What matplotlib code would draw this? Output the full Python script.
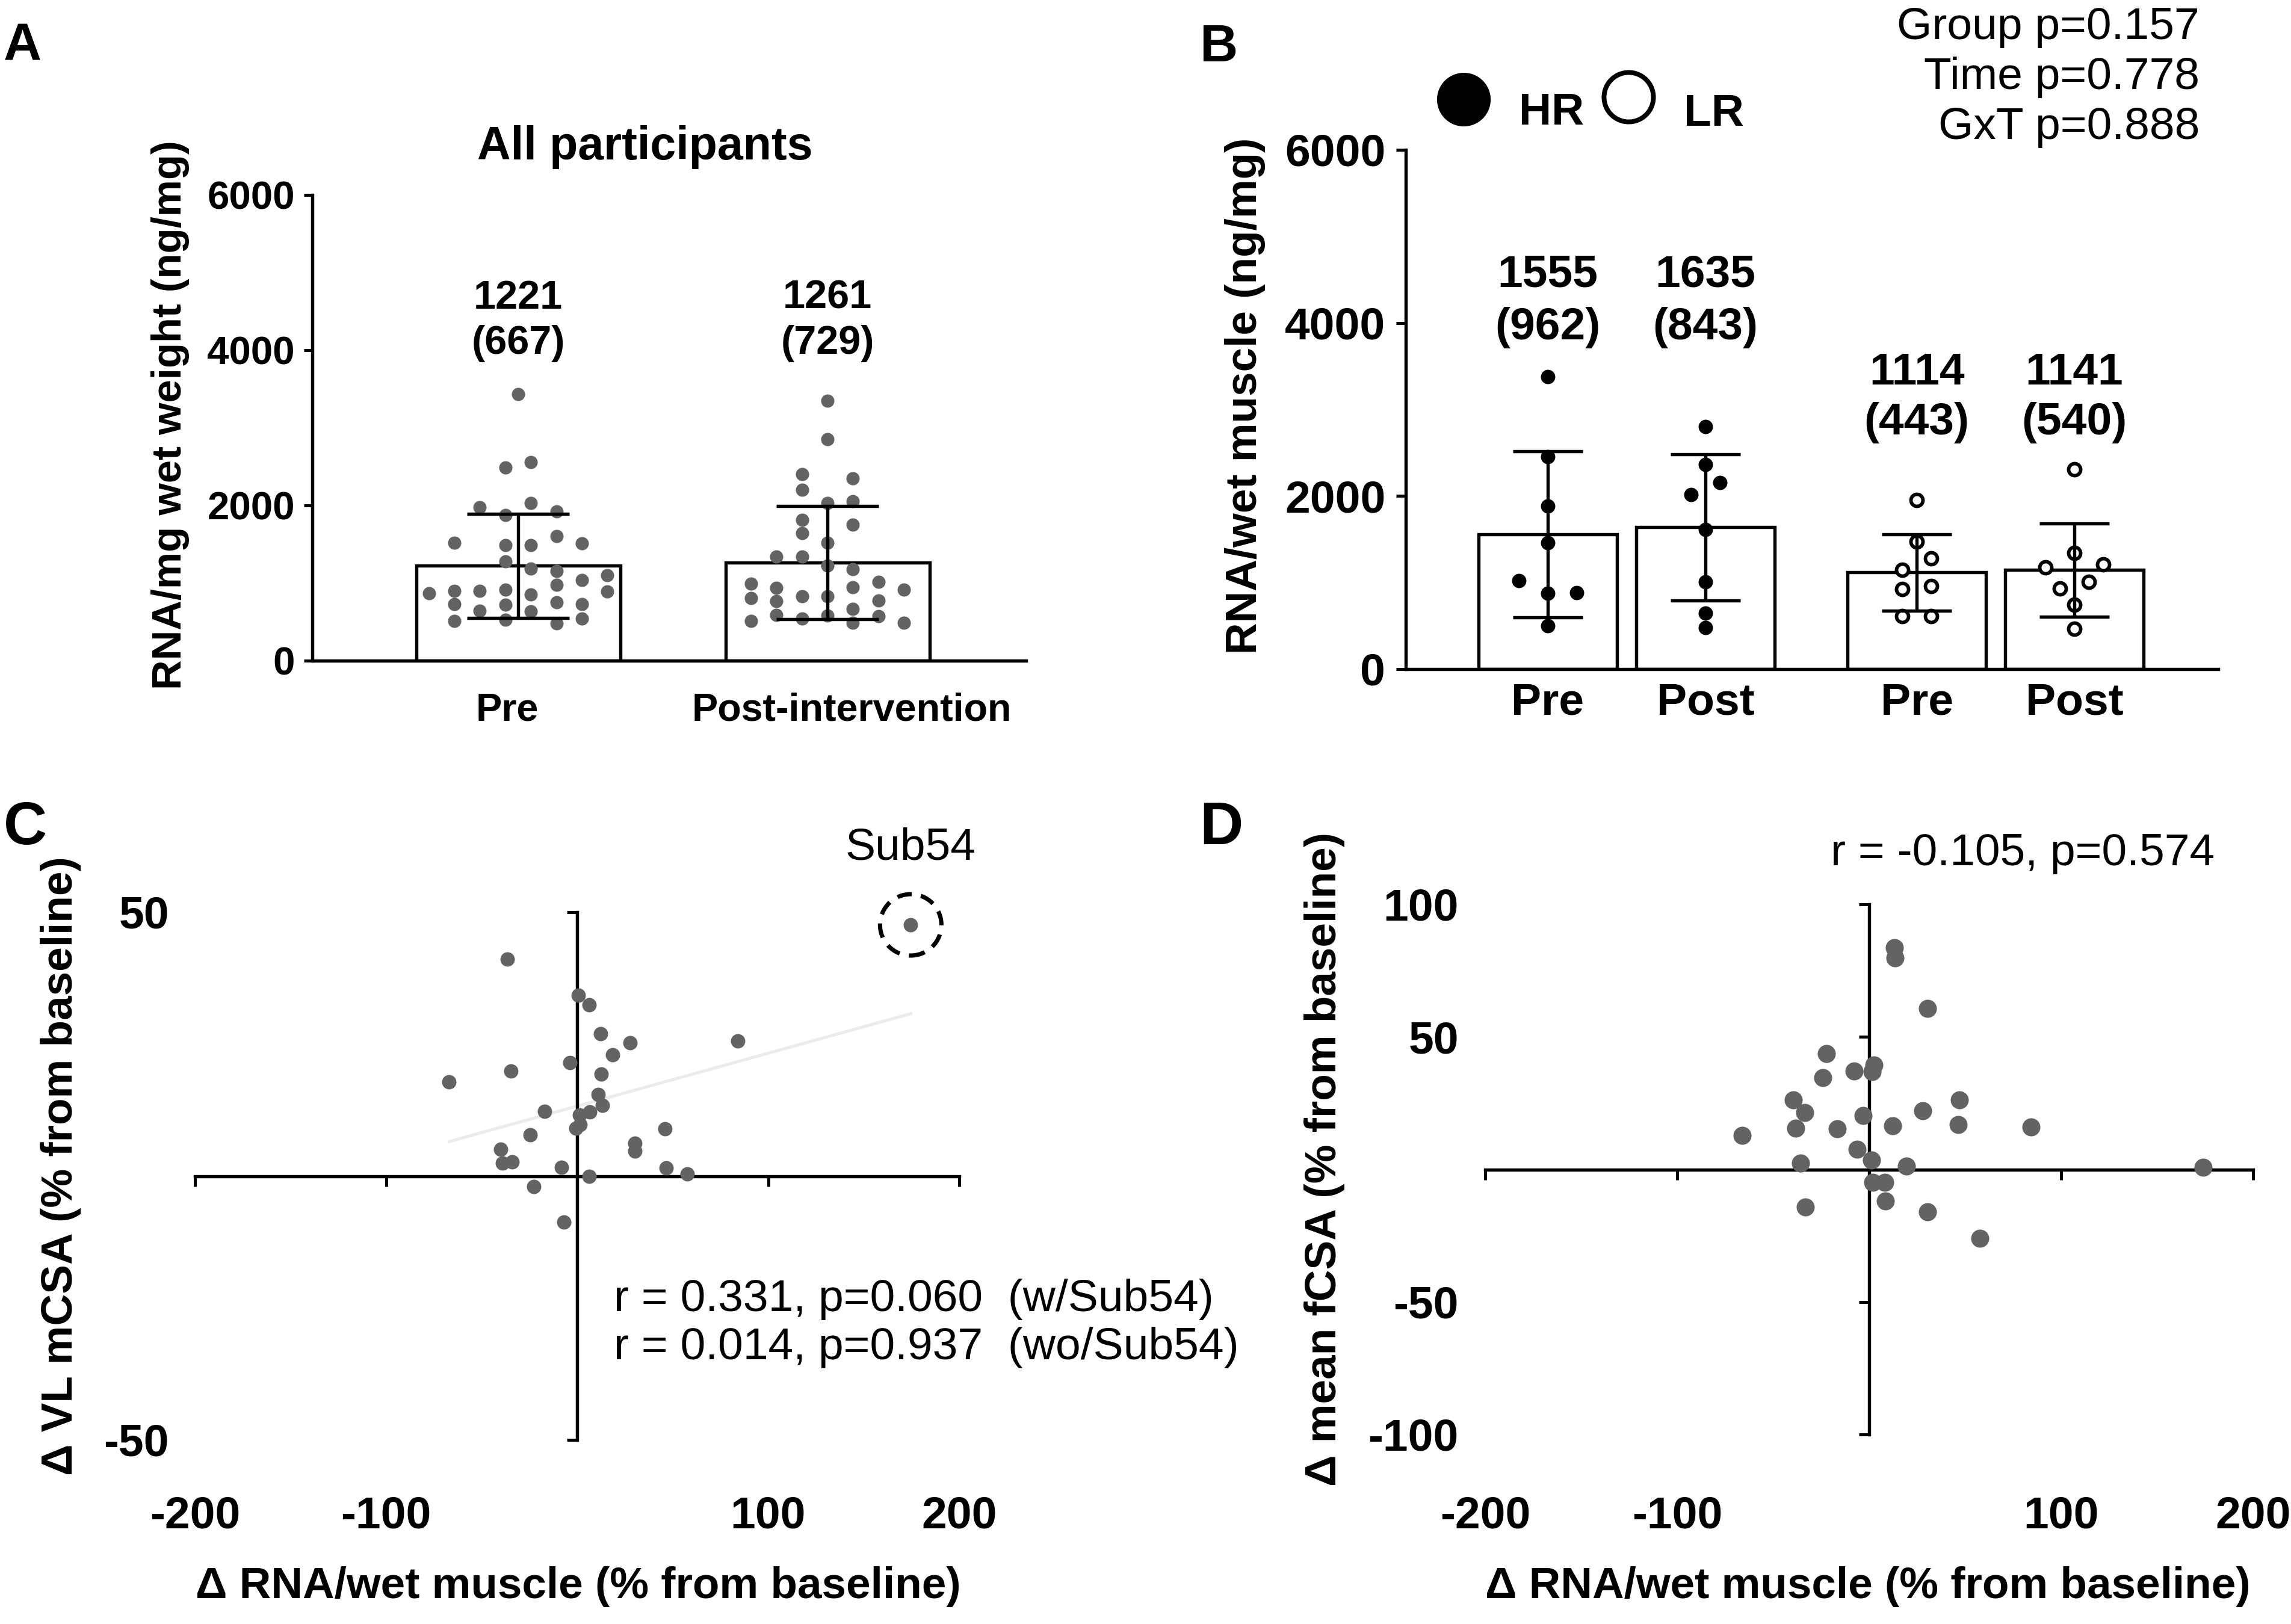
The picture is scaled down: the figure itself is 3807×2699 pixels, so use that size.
import numpy as np
import matplotlib
matplotlib.use("Agg")
import matplotlib.pyplot as plt
from matplotlib.lines import Line2D
from matplotlib.patches import Ellipse
from matplotlib.transforms import blended_transform_factory, offset_copy, ScaledTranslation

# Size of the output picture in pixels (saved at 300 dpi).
W, H = 3807, 2699
DPI = 300

# Panel A: all participants, RNA per mg wet weight (ng/mg).
A_GROUPS = ["Pre", "Post-intervention"]
A_MEAN = [1221, 1261]
A_SD = [667, 729]
A_PRE = [3432, 2490, 2562, 1980, 2028, 1874, 1919, 1521, 1487, 1487, 1606, 1508,
         1277, 1189, 1155, 1035, 1102, 871, 897, 897, 911, 849, 977, 889,
         730, 719, 751, 730, 640, 632, 512, 531, 478, 544]
# Column (swarm slot) of each dot.
A_PRE_SLOT = [0, -0.5, 0.5, -1.5, 0.5, -0.5, 1.5, -2.5, -0.5, 0.5, 1.5, 2.5,
              -0.5, 0.5, 1.5, 2.5, 3.5, -3.5, -2.5, -1.5, -0.5, 0.5, 1.5, 3.5,
              -2.5, -0.5, 1.5, 2.5, -1.5, 0.5, -2.5, -0.5, 1.5, 2.5]
A_POST = [3345, 2854, 2405, 2349, 2198, 2033, 2052, 1813, 1752, 1641, 1521,
          1343, 1343, 1221, 1176, 990, 937, 831, 831, 942, 1017, 916,
          804, 765, 778, 664, 592, 584, 571, 512, 539, 486, 491]
A_POST_SLOT = [0, 0, -1, 1, -1, 0, 1, -1, 1, -1, 0,
               -2, -1, 0, 1, -3, -2, -1, 0, 1, 2, 3,
               -3, -2, 2, 1, -2, 0, 2, -3, -1, 1, 3]

# Panel B: HR vs LR, RNA per wet muscle (ng/mg).
B_GROUPS = ["Pre", "Post", "Pre", "Post"]
B_MEAN = [1555, 1635, 1114, 1141]
B_SD = [962, 843, 443, 540]
B_HR_PRE = [3374, 2452, 1884, 1457, 1019, 876, 883, 499]
B_HR_PRE_SLOT = [0, 0, 0, 0, -2, 0, 2, 0]
B_HR_POST = [2799, 2363, 2152, 2013, 1613, 1002, 643, 475]
B_HR_POST_SLOT = [0, 0, 1, -1, 0, 0, 0, 0]
B_LR_PRE = [1949, 1470, 1278, 1146, 954, 919, 607, 607]
B_LR_PRE_SLOT = [0, 0, 1, -1, 1, -1, -1, 1]
B_LR_POST = [2308, 1338, 1170, 1206, 1002, 931, 739, 463]
B_LR_POST_SLOT = [0, 0, -2, 2, 1, -1, 0, 0]
B_STATS = ["Group p=0.157", "Time p=0.778", "GxT p=0.888"]

# Panel C: change in RNA vs change in VL mCSA (% from baseline).
C_X = [174.6, -36.5, 0.6, 6.4, 12.2, 27.7, 84.0, 18.7, -3.9, -34.5, 12.5,
       -67.0, 11.1, 13.1, -16.9, 6.7, 1.3, 1.5, -0.5, 46.0, -24.7, 30.1,
       30.1, -39.9, -39.0, -33.9, -8.2, 46.5, 57.5, 6.2, -22.8, -7.0]
C_Y = [47.6, 41.1, 34.3, 32.4, 27.0, 25.3, 25.6, 23.0, 21.5, 19.9, 19.3,
       17.8, 15.4, 13.4, 12.3, 12.1, 11.6, 9.7, 9.1, 9.0, 7.8, 6.2,
       4.7, 5.1, 2.4, 2.7, 1.7, 1.5, 0.4, -0.1, -2.0, -8.7]
C_STATS = ["r = 0.331, p=0.060  (w/Sub54)", "r = 0.014, p=0.937  (wo/Sub54)"]

# Panel D: change in RNA vs change in mean fCSA (% from baseline).
D_X = [13.1, 13.6, 30.4, -22.3, 2.5, -7.7, 1.5, -24.0, 47.1, -39.5, -33.6,
       28.0, -3.2, 12.1, 46.4, 84.2, -38.3, -16.6, -66.2, -6.3, 1.1, -35.6,
       19.3, 174.1, 1.8, 8.3, 8.4, -33.2, 30.4, 57.8]
D_Y = [83.6, 79.9, 60.7, 43.8, 39.5, 37.2, 36.8, 34.6, 26.2, 26.2, 21.4,
       22.2, 20.3, 16.5, 16.8, 15.9, 15.5, 15.4, 12.8, 7.6, 3.5, 2.3,
       1.3, 0.9, -4.8, -4.8, -11.9, -14.1, -16.1, -26.1]
D_STATS = "r = -0.105, p=0.574"

DOT_GREY = "#636363"


def fx(px):
    # This turns a pixel column into a figure fraction.
    return px / W


def fy(py):
    # This turns a pixel row (from the top) into a figure fraction.
    return 1 - py / H


def add_axes_px(fig, left, top, right, bottom):
    return fig.add_axes([fx(left), fy(bottom), (right - left) / W, (bottom - top) / H])


def quadrant_axes(ax, xlim, ylim, xticks, yticks, label_right, fig):
    # GraphPad style: axes cross at zero, tick labels sit at the outer edges.
    ax.set_xlim(*xlim)
    ax.set_ylim(*ylim)
    for side in ["top", "right"]:
        ax.spines[side].set_visible(False)
    ax.spines["left"].set_position(("data", 0))
    ax.spines["bottom"].set_position(("data", 0))
    ax.set_xticks(xticks)
    ax.set_yticks(yticks)
    ax.tick_params(labelbottom=False, labelleft=False, length=4, width=1.2)

    xt = blended_transform_factory(ax.transData, fig.transFigure)
    for v in xticks:
        ax.text(v, fy(2540), str(int(v)), transform=xt, ha="center", va="baseline",
                fontsize=18, fontweight="bold", clip_on=False)
    yt = offset_copy(blended_transform_factory(fig.transFigure, ax.transData),
                     fig=fig, y=-0.358 * 18, units="points")
    for v in yticks:
        ax.text(fx(label_right), v, str(int(v)), transform=yt, ha="right", va="baseline",
                fontsize=18, fontweight="bold", clip_on=False)


def main():
    plt.rcParams["font.family"] = ["Liberation Sans", "DejaVu Sans"]
    plt.rcParams["font.weight"] = "bold"
    plt.rcParams["axes.linewidth"] = 1.3

    fig = plt.figure(figsize=(W / DPI, H / DPI), dpi=DPI)

    # ---------------- Panel A ----------------
    ax = add_axes_px(fig, 519, 324, 1705, 1098)
    pos = np.arange(len(A_GROUPS))
    unit = 514.0
    ax.set_xlim((519 - 861) / unit, (1705 - 861) / unit)
    ax.set_ylim(0, 6000)
    bar_w = 339 / unit
    step = bar_w / 8
    ax.bar(pos, A_MEAN, width=bar_w, color="white", edgecolor="black", linewidth=1.3, zorder=1)
    for i, (vals, slots) in enumerate([(A_PRE, A_PRE_SLOT), (A_POST, A_POST_SLOT)]):
        ax.scatter(pos[i] + np.array(slots) * step, vals, s=28, color=DOT_GREY,
                   linewidths=0, zorder=2, clip_on=False)
    ax.errorbar(pos, A_MEAN, yerr=A_SD, fmt="none", ecolor="black", elinewidth=1.3,
                capsize=20.4, capthick=1.3, zorder=3)
    for i in range(len(A_GROUPS)):
        ax.text(pos[i], 4535, f"{A_MEAN[i]}", ha="center", va="baseline", fontsize=16)
        ax.text(pos[i], 3953, f"({A_SD[i]})", ha="center", va="baseline", fontsize=16)
    for side in ["top", "right"]:
        ax.spines[side].set_visible(False)
    ax.set_yticks([0, 2000, 4000, 6000])
    ax.set_xticks(pos, A_GROUPS)
    ax.tick_params(axis="y", length=3.4, width=1.2, pad=3.6, labelsize=15.7)
    ax.tick_params(axis="x", length=0, pad=12.5, labelsize=15.5)
    # The category labels in the original sit a little off the bar centres.
    for lab, dx in zip(ax.get_xticklabels(), [-18, 40]):
        lab.set_transform(lab.get_transform() + ScaledTranslation(dx / DPI, 0, fig.dpi_scale_trans))
    fig.text(fx(301), fy(690), "RNA/mg wet weight (ng/mg)", rotation=90,
             rotation_mode="anchor", ha="center", va="baseline", fontsize=16.5)
    fig.text(fx(1072), fy(265), "All participants", ha="center", va="baseline", fontsize=18.5)
    fig.text(fx(6), fy(100), "A", ha="left", va="baseline", fontsize=21)

    # ---------------- Panel B ----------------
    ax = add_axes_px(fig, 2336, 249, 3686, 1111.5)
    pos = np.array([0, 1, 2.34, 3.34])
    unit = 262.0
    ax.set_xlim((2336 - 2572) / unit, (3686 - 2572) / unit)
    ax.set_ylim(0, 6000)
    bar_w = 230 / unit
    step = 24 / unit
    ax.bar(pos, B_MEAN, width=bar_w, color="white", edgecolor="black", linewidth=1.3, zorder=1)
    groups = [(B_HR_PRE, B_HR_PRE_SLOT, True), (B_HR_POST, B_HR_POST_SLOT, True),
              (B_LR_PRE, B_LR_PRE_SLOT, False), (B_LR_POST, B_LR_POST_SLOT, False)]
    for i, (vals, slots, filled) in enumerate(groups):
        xs = pos[i] + np.array(slots) * step
        if filled:
            ax.scatter(xs, vals, s=33, color="black", linewidths=0, zorder=2, clip_on=False)
        else:
            ax.scatter(xs, vals, s=23, facecolor="white", edgecolor="black",
                       linewidths=1.4, zorder=2, clip_on=False)
    ax.errorbar(pos, B_MEAN, yerr=B_SD, fmt="none", ecolor="black", elinewidth=1.3,
                capsize=14, capthick=1.3, zorder=3)
    label_y = [(4414, 3809), (4414, 3809), (3290, 2710), (3290, 2710)]
    for i in range(len(B_GROUPS)):
        ax.text(pos[i], label_y[i][0], f"{B_MEAN[i]}", ha="center", va="baseline", fontsize=18)
        ax.text(pos[i], label_y[i][1], f"({B_SD[i]})", ha="center", va="baseline", fontsize=18)
    for side in ["top", "right"]:
        ax.spines[side].set_visible(False)
    ax.set_yticks([0, 2000, 4000, 6000])
    ax.set_xticks(pos, B_GROUPS)
    ax.tick_params(axis="y", length=3.8, width=1.2, pad=4.3, labelsize=18)
    ax.tick_params(axis="x", length=0, pad=5.3, labelsize=18)
    fig.text(fx(2088), fy(658), "RNA/wet muscle (ng/mg)", rotation=90,
             rotation_mode="anchor", ha="center", va="baseline", fontsize=17.5)
    fig.text(fx(1993), fy(102), "B", ha="left", va="baseline", fontsize=21)

    # Legend for HR (filled) and LR (open) made of two big markers.
    fig.add_artist(Line2D([fx(2432)], [fy(165)], transform=fig.transFigure, marker="o",
                          markersize=21.4, markerfacecolor="black", markeredgewidth=0,
                          linestyle="none"))
    fig.add_artist(Line2D([fx(2706)], [fy(161)], transform=fig.transFigure, marker="o",
                          markersize=19.7, markerfacecolor="white", markeredgecolor="black",
                          markeredgewidth=1.9, linestyle="none"))
    fig.text(fx(2524), fy(207), "HR", ha="left", va="baseline", fontsize=18)
    fig.text(fx(2798), fy(209), "LR", ha="left", va="baseline", fontsize=18)
    for k, line in enumerate(B_STATS):
        fig.text(fx(3655), fy(64.6 + 83 * k), line, ha="right", va="baseline",
                 fontsize=18, fontweight="normal")

    # ---------------- Panel C ----------------
    ax = add_axes_px(fig, 324, 1516, 1594, 2393)
    quadrant_axes(ax, (-200, 200), (-50, 50), [-200, -100, 100, 200], [-50, 50], 281, fig)
    coef = np.polyfit(C_X, C_Y, 1)
    line_x = np.array([min(C_X), max(C_X)])
    ax.plot(line_x, np.polyval(coef, line_x), color="#ebebeb", linewidth=1.2, zorder=1)
    ax.scatter(C_X, C_Y, s=33, color=DOT_GREY, linewidths=0, zorder=3, clip_on=False)
    # Dashed ring round the outlier Sub54.
    k = int(np.argmax(C_X))
    px_per_x = ax.get_window_extent().width / 400
    px_per_y = ax.get_window_extent().height / 100
    ax.add_patch(Ellipse((C_X[k], C_Y[k]), 2 * 51 / px_per_x, 2 * 51 / px_per_y,
                         fill=False, edgecolor="black", linewidth=1.7,
                         linestyle=(0, (3.4, 2.2)), clip_on=False, zorder=4))
    ax.annotate("Sub54", (C_X[k], C_Y[k]), xytext=(0, 26), textcoords="offset points",
                ha="center", va="baseline", fontsize=18, fontweight="normal",
                annotation_clip=False)
    for j, line in enumerate(C_STATS):
        fig.text(fx(1020), fy(2179 + 80 * j), line, ha="left", va="baseline",
                 fontsize=18, fontweight="normal")
    fig.text(fx(120), fy(1938), "\u0394 VL mCSA (% from baseline)", rotation=90,
             rotation_mode="anchor", ha="center", va="baseline", fontsize=17.5)
    fig.text(fx(961), fy(2656), "\u0394 RNA/wet muscle (% from baseline)",
             ha="center", va="baseline", fontsize=17.5)
    fig.text(fx(6), fy(1403), "C", ha="left", va="baseline", fontsize=24)

    # ---------------- Panel D ----------------
    ax = add_axes_px(fig, 2468, 1503, 3744, 2384)
    quadrant_axes(ax, (-200, 200), (-100, 100), [-200, -100, 100, 200],
                  [-100, -50, 50, 100], 2424, fig)
    ax.scatter(D_X, D_Y, s=52, color=DOT_GREY, linewidths=0, zorder=3, clip_on=False)
    fig.text(fx(3042), fy(1438), D_STATS, ha="left", va="baseline",
             fontsize=18, fontweight="normal")
    fig.text(fx(2220), fy(1927), "\u0394 mean fCSA (% from baseline)", rotation=90,
             rotation_mode="anchor", ha="center", va="baseline", fontsize=17.5)
    fig.text(fx(3104), fy(2656), "\u0394 RNA/wet muscle (% from baseline)",
             ha="center", va="baseline", fontsize=17.5)
    fig.text(fx(1993), fy(1403), "D", ha="left", va="baseline", fontsize=24)

    fig.savefig("out.png", dpi=DPI)
    plt.close(fig)


if __name__ == "__main__":
    main()
